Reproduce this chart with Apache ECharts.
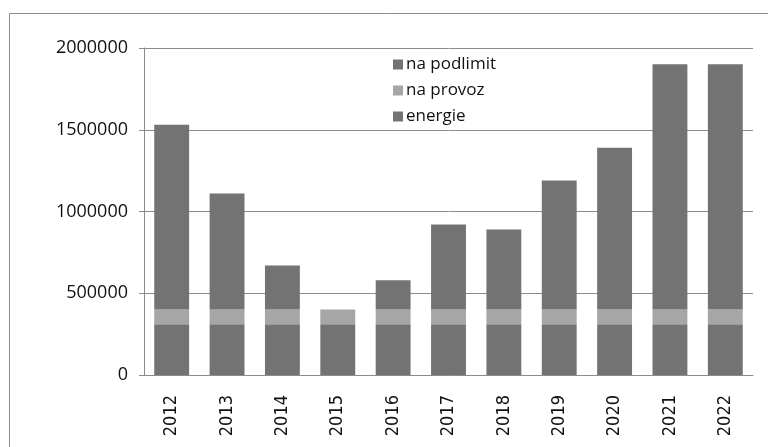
<!DOCTYPE html>
<html>
<head>
<meta charset="utf-8">
<script src="https://cdn.jsdelivr.net/npm/echarts@6/dist/echarts.min.js"></script>
<style>html,body{margin:0;padding:0;background:#fff;}#c{width:768px;height:447px;}</style>
</head>
<body>
<div id="c"></div>
<script>
const years = ['2012','2013','2014','2015','2016','2017','2018','2019','2020','2021','2022'];
const energie = [310000,310000,310000,310000,310000,310000,310000,310000,310000,310000,310000];
const naProvoz = [90000,90000,90000,90000,90000,90000,90000,90000,90000,90000,90000];
const naPodlimit = [1130000,710000,270000,0,180000,520000,490000,790000,990000,1500000,1500000];
const yTicks = [0,500000,1000000,1500000,2000000];

const chart = echarts.init(document.getElementById('c'));
chart.setOption({
  animation: false,
  backgroundColor: '#fff',
  graphic: [{type:'rect', shape:{x:9.5,y:13.5,width:800,height:600}, style:{fill:'none',stroke:'#8c8c8c',lineWidth:1}, silent:true}],
  grid: {left:144, right:15, top:48, bottom:72},
  legend: {
    orient:'vertical', left:388, top:51, itemWidth:10, itemHeight:10, itemGap:9,
    icon:'rect',
    data:['na podlimit','na provoz','energie'],
    textStyle:{fontFamily:'Open Sans', fontSize:17, color:'#111', padding:[0,0,0,-2]}
  },
  xAxis: {
    type:'category', data:years,
    axisLine:{lineStyle:{color:'#8c8c8c'}},
    axisTick:{show:false},
    axisLabel:{rotate:90, fontFamily:'DejaVu Sans Condensed', fontSize:18, color:'#111', margin:20}
  },
  yAxis: {
    type:'value', min:yTicks[0], max:yTicks[yTicks.length-1], interval:500000,
    axisLine:{show:true, lineStyle:{color:'#8c8c8c'}},
    axisTick:{show:true, length:5, lineStyle:{color:'#8c8c8c'}},
    splitLine:{lineStyle:{color:'#8c8c8c'}},
    axisLabel:{fontFamily:'Open Sans', fontSize:18, color:'#111', margin:16, formatter: v => String(v)}
  },
  series: [
    {name:'energie', type:'bar', stack:'s', data:energie, barCategoryGap:'37%', itemStyle:{color:'#737373'}},
    {name:'na provoz', type:'bar', stack:'s', data:naProvoz, itemStyle:{color:'#a6a6a6'}},
    {name:'na podlimit', type:'bar', stack:'s', data:naPodlimit, itemStyle:{color:'#737373'}}
  ]
});
</script>
</body>
</html>
